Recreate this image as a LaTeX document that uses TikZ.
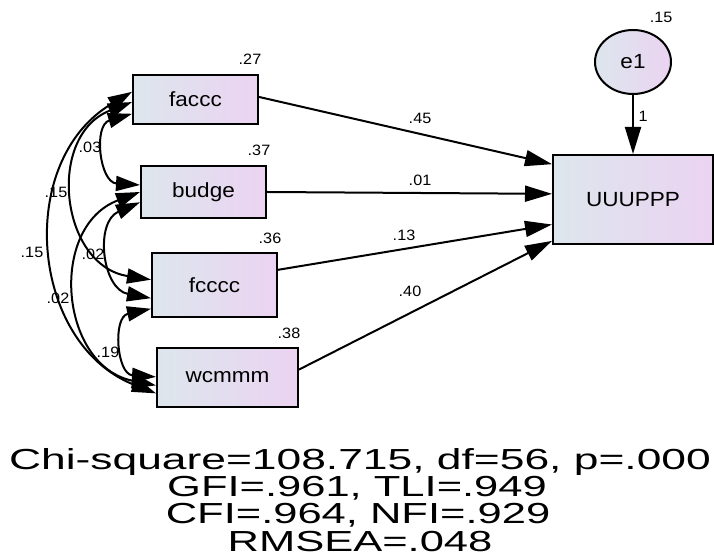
\documentclass[tikz,border=0pt]{standalone}
\usepackage{fontspec}
\usepackage{graphicx}
\setmainfont{Liberation Sans}
\usetikzlibrary{arrows.meta,calc,shapes.geometric}
\definecolor{fillA}{HTML}{DDE6EC}
\definecolor{fillB}{HTML}{EBD3F2}
\newcommand\boxfnt{\fontsize{20.5}{22}\selectfont}
\newcommand\lblfnt{\fontsize{15}{17}\selectfont}
\newcommand\fitfnt{\fontsize{29}{32}\selectfont}
\newcommand\bx[1]{\scalebox{1.1}[1]{#1}}
\newcommand\lb[1]{\scalebox{1.08}[1]{#1}}
\newcommand\ft[1]{\scalebox{1.5}[1]{#1}}
\newcommand\ftw[1]{\scalebox{1.53}[1]{#1}}
\tikzset{
  var/.style={draw=black, line width=2pt, rectangle, inner sep=0pt,
    left color=fillA, right color=fillB, font=\boxfnt},
  errv/.style={draw=black, line width=2pt, ellipse, inner sep=0pt,
    minimum width=76pt, minimum height=64pt,
    left color=fillA, right color=fillB, font=\boxfnt},
  pth/.style={line width=2pt, -{Triangle[length=27pt,width=16pt]}},
  cov/.style={line width=2pt, {Triangle[length=24pt,width=15pt]}-{Triangle[length=24pt,width=15pt]}},
  lbl/.style={font=\lblfnt, inner sep=0pt},
  fit/.style={font=\fitfnt, inner sep=0pt, anchor=base}
}
\begin{document}
\begin{tikzpicture}[x=1pt,y=1pt]
\useasboundingbox (0,0) rectangle (714,559);
% observed variables
\node[var, minimum width=125pt, minimum height=49pt] (faccc) at (195.5,459.5) {\bx{faccc}};
\node[var, minimum width=125pt, minimum height=52pt] (budge) at (203.5,367) {\bx{budge}};
\node[var, minimum width=125pt, minimum height=64pt] (fcccc) at (214.5,274) {\bx{fcccc}};
\node[var, minimum width=141pt, minimum height=59pt] (wcmmm) at (227.5,181.5) {\bx{wcmmm}};
\node[var, minimum width=160pt, minimum height=89pt] (UUUPPP) at (633,359.5) {\bx{UUUPPP}};
\node[errv] (e1) at (633,497) {\bx{e1}};
% regression paths
\draw[pth] ($(faccc.north east)!0.45!(faccc.south east)$) -- ($(UUUPPP.north west)!0.112!(UUUPPP.south west)$);
\draw[pth] ($(budge.north east)!0.5!(budge.south east)$) -- ($(UUUPPP.north west)!0.438!(UUUPPP.south west)$);
\draw[pth] ($(fcccc.north east)!0.27!(fcccc.south east)$) -- ($(UUUPPP.north west)!0.775!(UUUPPP.south west)$);
\draw[pth] ($(wcmmm.north east)!0.37!(wcmmm.south east)$) -- ($(UUUPPP.north west)!0.955!(UUUPPP.south west)$);
\draw[pth] (e1.south) -- (UUUPPP.north);
% covariances
\draw[cov] ($(faccc.north west)!0.78!(faccc.south west)$) to[bend right=80, looseness=1.45] ($(budge.north west)!0.37!(budge.south west)$);
\draw[cov] ($(faccc.north west)!0.55!(faccc.south west)$) to[bend right=75, looseness=1.32] ($(fcccc.north west)!0.42!(fcccc.south west)$);
\draw[cov] ($(faccc.north west)!0.35!(faccc.south west)$) to[bend right=64, looseness=1.15] ($(wcmmm.north west)!0.76!(wcmmm.south west)$);
\draw[cov] ($(budge.north west)!0.69!(budge.south west)$) to[bend right=73, looseness=1.32] ($(fcccc.north west)!0.70!(fcccc.south west)$);
\draw[cov] ($(budge.north west)!0.5!(budge.south west)$) to[bend right=74, looseness=1.3] ($(wcmmm.north west)!0.63!(wcmmm.south west)$);
\draw[cov] ($(fcccc.north west)!0.86!(fcccc.south west)$) to[bend right=82, looseness=1.48] ($(wcmmm.north west)!0.49!(wcmmm.south west)$);
% labels
\node[lbl] (r1) at (250,500) {\lb{.27}};
\node[lbl] (r2) at (259,409) {\lb{.37}};
\node[lbl] (r3) at (270,321) {\lb{.36}};
\node[lbl] (r4) at (289,226) {\lb{.38}};
\node[lbl] (r5) at (661,542) {\lb{.15}};
\node[lbl] (one) at (643,443) {\lb{1}};
\node[lbl] (p1) at (420,441) {\lb{.45}};
\node[lbl] (p2) at (420,379) {\lb{.01}};
\node[lbl] (p3) at (404,324) {\lb{.13}};
\node[lbl] (p4) at (410,268) {\lb{.40}};
\node[lbl] (c1) at (90,412) {\lb{.03}};
\node[lbl] (c2) at (56,367) {\lb{.15}};
\node[lbl] (c3) at (32,307) {\lb{.15}};
\node[lbl] (c4) at (93,305) {\lb{.02}};
\node[lbl] (c5) at (58,261) {\lb{.02}};
\node[lbl] (c6) at (108,207) {\lb{.19}};
% fit indices
\node[fit] (f1) at (360,89) {\ftw{Chi-square=108.715, df=56, p=.000}};
\node[fit] (f2) at (357,62) {\ft{GFI=.961, TLI=.949}};
\node[fit] (f3) at (358,35) {\ft{CFI=.964, NFI=.929}};
\node[fit] (f4) at (360,8) {\ft{RMSEA=.048}};
\end{tikzpicture}
\end{document}
